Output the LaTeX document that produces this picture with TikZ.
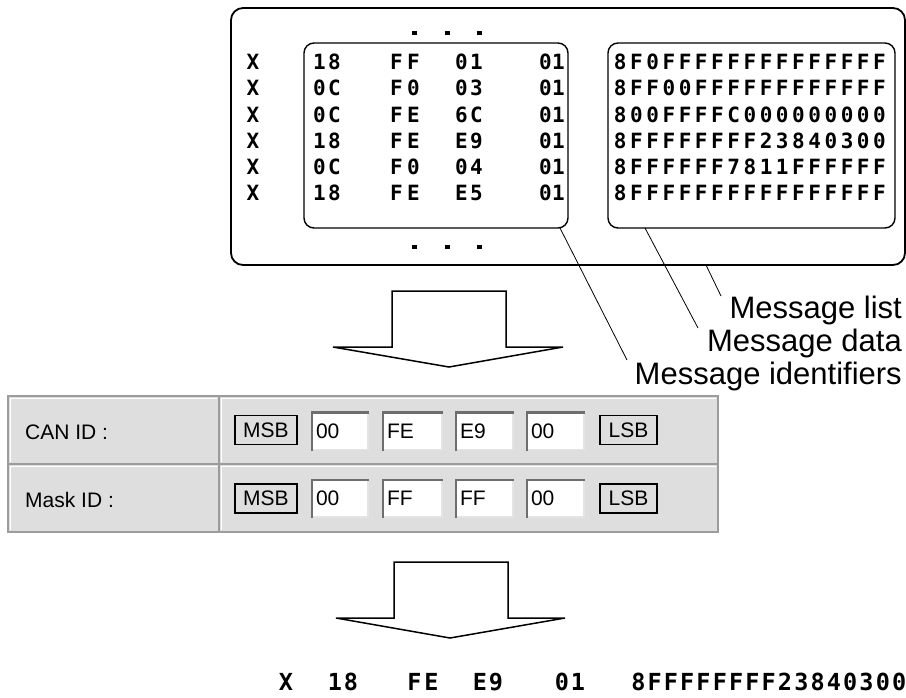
\documentclass[tikz,border=0pt]{standalone}
\usepackage{fontspec}
\setmainfont{Liberation Sans}
\newfontfamily\pixfont{DejaVu Sans Mono Bold}
\makeatletter
\newcommand\hexsp[2]{\def\hex@w{#1}\edef\hex@s{#2}\expandafter\hex@i\hex@s\relax}
\def\hex@i#1{\ifx#1\relax\else\makebox[\hex@w][c]{#1}\expandafter\hex@i\fi}
\makeatother
\definecolor{tablegray}{HTML}{DEDEDE}
\definecolor{framegray}{HTML}{9C9C9C}
\definecolor{darkedge}{HTML}{6E6E6E}
\definecolor{lightedge}{HTML}{E4E4E4}
\begin{document}
\begin{tikzpicture}[x=1pt,y=-1pt,
  pix/.style={font=\pixfont\fontsize{21}{21}\selectfont, inner sep=0pt},
  pixbig/.style={font=\pixfont\fontsize{23.5}{23.5}\selectfont, inner sep=0pt},
  lbl/.style={font=\fontsize{31}{31}\selectfont, inner sep=0pt, anchor=base east},
  ui/.style={font=\fontsize{21}{21}\selectfont, inner sep=0pt},
  rbox/.style={draw, line width=1.4pt, rounded corners=10pt, inner sep=0pt},
  leader/.style={draw, line width=0.8pt},
  blockarrow/.style={draw, line width=1.5pt, fill=white, line join=miter},
  field/.style={fill=white, font=\fontsize{21}{21}\selectfont, inner xsep=4pt, inner ysep=0pt,
     minimum height=37pt, align=left},
  tag/.style={draw, line width=1.6pt, font=\fontsize{21}{21}\selectfont, inner sep=0pt,
     minimum height=29pt}
]
\useasboundingbox (0,0) rectangle (906,697);

% ---------- message list ----------
\node[rbox, line width=1.8pt, rounded corners=12pt, minimum width=674pt, minimum height=257pt] (list) at (568,136.5) {};
\node[rbox, minimum width=264pt, minimum height=185pt] (ids) at (436,135.5) {};
\node[rbox, minimum width=287pt, minimum height=185pt] (data) at (751.5,135.5) {};

\foreach \x in {414,447,479}{
  \fill (\x-2.5,31) rectangle (\x+2.5,35);
  \fill (\x-2.5,245) rectangle (\x+2.5,249);
}

\foreach \y/\a/\b/\c/\d/\dat [count=\i] in {
  62/18/FF/01/01/8F0FFFFFFFFFFFFFF,
  88.2/0C/F0/03/01/8FF00FFFFFFFFFFFF,
  114.4/0C/FE/6C/01/800FFFFC000000000,
  140.6/18/FE/E9/01/8FFFFFFFF23840300,
  166.8/0C/F0/04/01/8FFFFFF7811FFFFFF,
  193/18/FE/E5/01/8FFFFFFFFFFFFFFFF}{
  \node[pix] (x\i) at (253,\y) {X};
  \node[pix] (a\i) at (327,\y) {\hexsp{15pt}{\a}};
  \node[pix] (b\i) at (405,\y) {\hexsp{17pt}{\b}};
  \node[pix] (c\i) at (469,\y) {\hexsp{15pt}{\c}};
  \node[pix] (d\i) at (552,\y) {\hexsp{13pt}{\d}};
  \node[pix, anchor=west] (m\i) at (612,\y) {\hexsp{16.2pt}{\dat}};
}

% ---------- labels ----------
\node[lbl] (lbllist) at (902,318) {Message list};
\node[lbl] (lbldata) at (902,351) {Message data};
\node[lbl] (lblid) at (902,384) {Message identifiers};

\coordinate (idstart) at (560,228);
\coordinate (idend) at (627,360);
\coordinate (datastart) at (645,228);
\coordinate (dataend) at (698,328);
\coordinate (liststart) at (706,265);
\coordinate (listend) at (721,296);
\draw[leader] (idstart) -- (idend);
\draw[leader] (datastart) -- (dataend);
\draw[leader] (liststart) -- (listend);

% ---------- first block arrow ----------
\draw[blockarrow] (392,291) -- (506,291) -- (506,347) -- (563,347) -- (449,367) -- (333,347) -- (392,347) -- cycle;

% ---------- table ----------
\fill[tablegray] (8,396) rectangle (718,532);
\draw[framegray, line width=1.2pt] (8,396) rectangle (718,532);
\draw[framegray, line width=1.2pt] (8,464) -- (718,464);
\draw[framegray, line width=1.2pt] (219,396) -- (219,532);
\draw[white, line width=1pt] (10,462) -- (10,398) -- (217,398);
\draw[white, line width=1pt] (221,462) -- (221,398) -- (716,398);
\draw[white, line width=1pt] (10,530) -- (10,466) -- (217,466);
\draw[white, line width=1pt] (221,530) -- (221,466) -- (716,466);

\node[ui, anchor=base west] (canlbl) at (25,439) {CAN ID :};
\node[ui, anchor=base west] (masklbl) at (25,507) {Mask ID :};

% row 1
\node[tag, minimum width=62pt] (msb1) at (266,430) {MSB};
\node[field, text width=48pt] (f11) at (340,431) {00};
\node[field, text width=51pt] (f12) at (412.5,431) {FE};
\node[field, text width=49pt] (f13) at (484.5,431) {E9};
\node[field, text width=49pt] (f14) at (555.5,431) {00};
\node[tag, minimum width=57pt] (lsb1) at (628.5,430) {LSB};
% row 2
\node[tag, minimum width=62pt] (msb2) at (266,498.5) {MSB};
\node[field, text width=48pt] (f21) at (340,498.5) {00};
\node[field, text width=51pt] (f22) at (412.5,498.5) {FF};
\node[field, text width=49pt] (f23) at (484.5,498.5) {FF};
\node[field, text width=49pt] (f24) at (555.5,498.5) {00};
\node[tag, minimum width=57pt] (lsb2) at (628.5,498.5) {LSB};

\foreach \f in {f11,f12,f13,f14,f21,f22,f23,f24}{
  \draw[lightedge, line width=1.5pt] (\f.north east) -- (\f.south east) -- (\f.south west);
  \draw[darkedge, line width=2.5pt] ([yshift=-1pt]\f.south west) -- (\f.north west) -- ([xshift=1pt]\f.north east);
}

% ---------- second block arrow ----------
\draw[blockarrow] (394,562) -- (508,562) -- (508,618) -- (565,618) -- (450,638) -- (336,618) -- (394,618) -- cycle;

% ---------- result row ----------
\node[pixbig] (rx) at (286,682) {X};
\node[pixbig] (ra) at (343,682) {\hexsp{16pt}{18}};
\node[pixbig] (rb) at (423,682) {\hexsp{17pt}{FE}};
\node[pixbig] (rc) at (488,682) {\hexsp{16pt}{E9}};
\node[pixbig] (rd) at (570,682) {\hexsp{16pt}{01}};
\node[pixbig, anchor=west] (rm) at (630,682) {\hexsp{16.3pt}{8FFFFFFFF23840300}};
\end{tikzpicture}
\end{document}
